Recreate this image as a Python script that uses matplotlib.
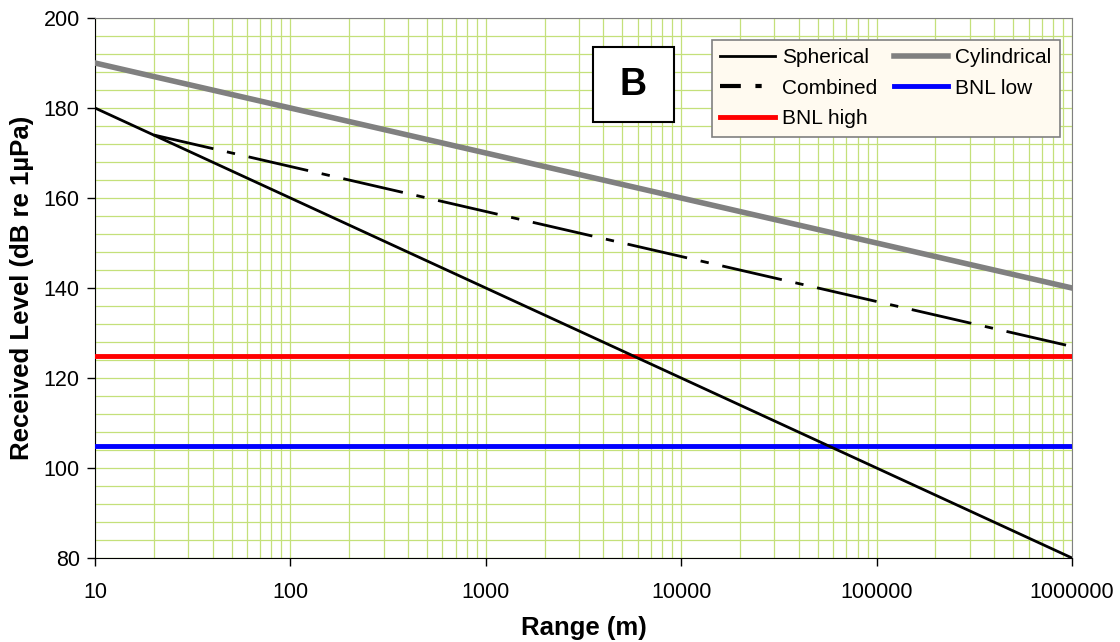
import numpy as np
import matplotlib
matplotlib.use('Agg')
import matplotlib.pyplot as plt
from matplotlib.lines import Line2D
from matplotlib.patches import Rectangle
from matplotlib.ticker import FixedLocator, MultipleLocator, LogLocator, NullFormatter

plt.rcParams['font.family'] = ['Liberation Sans', 'DejaVu Sans']

# datos
rango = [10, 100, 1000, 10000, 100000, 1000000]
esferico = [180, 160, 140, 120, 100, 80]
cilindrico = [190, 180, 170, 160, 150, 140]
rango_comb = [20, 100, 1000, 10000, 100000, 1000000]
combinado = [174, 167, 157, 147, 137, 127]
bnl_alto = [125, 125]
bnl_bajo = [105, 105]
rango_bnl = [10, 1000000]

fig = plt.figure(figsize=(11.2, 6.42), dpi=100)
ax = fig.add_axes([95/1120, 1 - 558/642, (1072-95)/1120, (558-18)/642])

ax.plot(rango, cilindrico, color='#808080', lw=4, label='Cylindrical', zorder=3)
ax.plot(rango, esferico, color='black', lw=2, label='Spherical', zorder=4)
ax.plot(rango_comb, combinado, color='black', lw=2, dashes=(22, 5, 3, 5), label='Combined', zorder=4)
ax.plot(rango_bnl, bnl_alto, color='#ff0000', lw=3.5, label='BNL high', zorder=3)
ax.plot(rango_bnl, bnl_bajo, color='#0000ff', lw=3.5, label='BNL low', zorder=3)

ax.set_xscale('log')
ax.set_xlim(10, 1000000)
ax.set_ylim(80, 200)
ax.xaxis.set_major_locator(FixedLocator([10, 100, 1000, 10000, 100000, 1000000]))
ax.set_xticklabels(['10', '100', '1000', '10000', '100000', '1000000'])
ax.xaxis.set_minor_locator(LogLocator(base=10, subs=np.arange(2, 10)))
ax.xaxis.set_minor_formatter(NullFormatter())
ax.yaxis.set_major_locator(MultipleLocator(20))
ax.yaxis.set_minor_locator(MultipleLocator(4))

ax.grid(True, which='both', color='#c4e07a', lw=0.9, zorder=0)
ax.set_axisbelow(True)
ax.tick_params(which='minor', length=0)
ax.tick_params(which='major', direction='out', length=6, width=1, labelsize=15.5, pad=11)
ax.tick_params(axis='y', pad=5)

for s in ['top', 'right']:
    ax.spines[s].set_color('#808080')
for s in ['left', 'bottom']:
    ax.spines[s].set_color('black')

ax.set_xlabel('Range (m)', fontsize=18.5, fontweight='bold', labelpad=10)
ax.set_ylabel('Received Level (dB re 1µPa)', fontsize=18.5, fontweight='bold', labelpad=7)

h, l = ax.get_legend_handles_labels()
hd = dict(zip(l, h))
# el trazo del legend necesita un patron mas corto para verse
hd['Combined'] = Line2D([], [], color='black', lw=3, dashes=(5, 3.5, 1.5, 3.5))
orden = ['Spherical', 'Combined', 'BNL high', 'Cylindrical', 'BNL low']
leg = ax.legend([hd[k] for k in orden], orden, ncol=2, loc='upper left',
                bbox_to_anchor=((712-95)/977, 1 - (40-18)/540), fontsize=15,
                frameon=True, fancybox=False, handlelength=2.6, columnspacing=0.8,
                handletextpad=0.35, labelspacing=0.55, borderpad=0.4,
                borderaxespad=0)
leg.get_frame().set_facecolor('#fffaf0')
leg.get_frame().set_edgecolor('#808080')
leg.get_frame().set_alpha(1)
leg.get_frame().set_linewidth(1.2)

# cuadro con la letra del panel
ax.add_patch(Rectangle(((593-95)/977, 1 - (122-18)/540), 81/977, 75/540,
                       transform=ax.transAxes, fc='white', ec='black', lw=1.5, zorder=6))
ax.text((633.5-95)/977, 1 - (85-18)/540, 'B', transform=ax.transAxes, fontsize=27,
        fontweight='bold', ha='center', va='center', zorder=7)

fig.savefig('out.png', dpi=100)
